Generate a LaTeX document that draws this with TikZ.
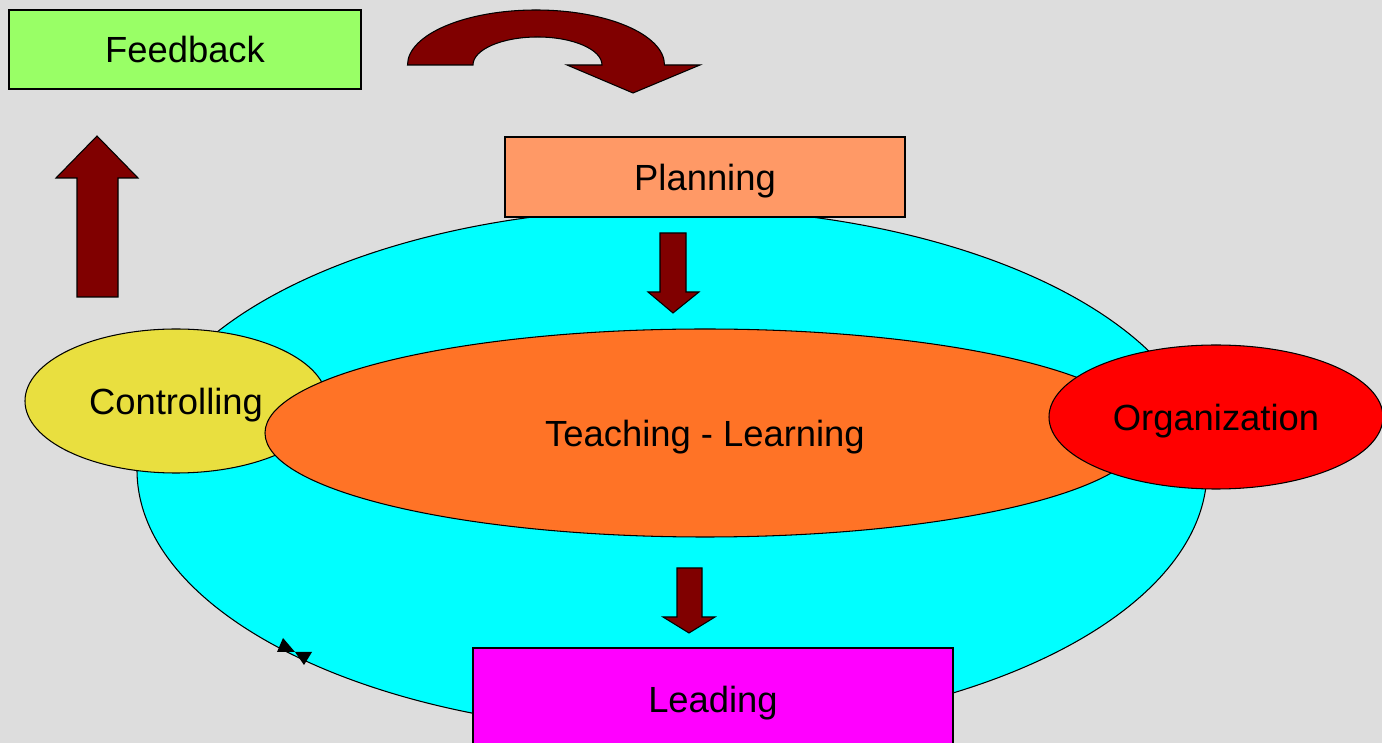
\documentclass[tikz,border=0pt]{standalone}
\usepackage{fontspec}
\setmainfont{Liberation Sans}
\usepackage{xcolor}
\usetikzlibrary{shapes}
\usetikzlibrary{shapes.geometric}

\definecolor{bggray}{HTML}{DDDDDD}
\definecolor{feedgreen}{HTML}{99FF66}
\definecolor{planorange}{HTML}{FF9966}
\definecolor{cyclecyan}{HTML}{00FFFF}
\definecolor{teachorange}{HTML}{FF7326}
\definecolor{ctrlyellow}{HTML}{E9DF3F}
\definecolor{orgred}{HTML}{FF0000}
\definecolor{leadmagenta}{HTML}{FF00FF}
\definecolor{arrowred}{HTML}{800000}

\tikzset{
	box/.style={rectangle, draw=black, line width=.6pt, inner sep=0pt},
	oval/.style={ellipse, draw=black, line width=.6pt, inner sep=0pt},
	blockarrow/.style={fill=arrowred, draw=black, line width=.6pt, line join=miter},
}

\begin{document}
\begin{tikzpicture}[every node/.style={font=\fontsize{20.7}{25}\selectfont, text depth=0pt}]

	% background
	\clip (0, 0) rectangle (27.64, 14.86);
	\fill[bggray] (0, 0) rectangle (27.64, 14.86);

	% big cycle
	\node[oval, fill=cyclecyan, minimum width=21.4cm, minimum height=10.48cm] (cycle) at (13.44, 5.46) {};
	\fill[black] (5.66, 2.10) -- (5.54, 1.82) -- (5.90, 1.82) -- cycle;
	\fill[black] (5.90, 1.82) -- (6.24, 1.82) -- (6.08, 1.56) -- cycle;

	% ellipses
	\node[oval, fill=ctrlyellow, minimum width=6.04cm, minimum height=2.88cm] (controlling) at (3.52, 6.84) {Controlling};
	\node[oval, fill=teachorange, minimum width=17.6cm, minimum height=4.16cm] (teaching) at (14.10, 6.20) {Teaching - Learning};
	\node[oval, fill=orgred, minimum width=6.68cm, minimum height=2.88cm] (organization) at (24.32, 6.52) {Organization};

	% boxes
	\node[box, fill=planorange, minimum width=8cm, minimum height=1.6cm] (planning) at (14.10, 11.32) {Planning};
	\node[box, fill=leadmagenta, minimum width=9.6cm, minimum height=2.04cm] (leading) at (14.26, 0.88) {Leading};
	\node[box, fill=feedgreen, minimum width=7.04cm, minimum height=1.58cm] (feedback) at (3.70, 13.87) {Feedback};

	% Arrows
	\filldraw[blockarrow] (1.94, 12.14) -- (2.76, 11.30) -- (2.36, 11.30) -- (2.36, 8.92)
		-- (1.54, 8.92) -- (1.54, 11.30) -- (1.12, 11.30) -- cycle;
	\filldraw[blockarrow] (13.20, 10.20) -- (13.20, 9.02) -- (12.96, 9.02) -- (13.46, 8.60)
		-- (13.98, 9.02) -- (13.72, 9.02) -- (13.72, 10.20) -- cycle;
	\filldraw[blockarrow] (13.54, 3.50) -- (13.54, 2.52) -- (13.26, 2.52) -- (13.78, 2.20)
		-- (14.30, 2.52) -- (14.04, 2.52) -- (14.04, 3.50) -- cycle;
	\filldraw[blockarrow] (8.15, 13.56) arc[start angle=180, end angle=0, x radius=2.57cm, y radius=1.10cm]
		-- (14.00, 13.56) -- (12.66, 13.00) -- (11.34, 13.56) -- (12.04, 13.56)
		arc[start angle=0, end angle=180, x radius=1.29cm, y radius=.56cm] -- cycle;

\end{tikzpicture}
\end{document}
